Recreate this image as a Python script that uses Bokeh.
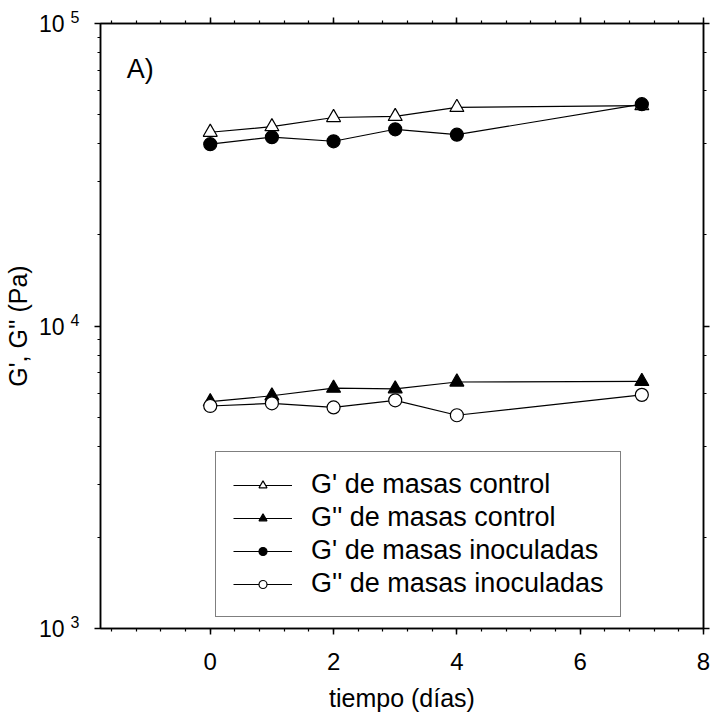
from bokeh.plotting import figure
from bokeh.models import (Range1d, LinearAxis, LogAxis, Legend, LegendItem,
                          SingleIntervalTicker, Label)
from bokeh.embed import file_html
from bokeh.resources import INLINE

# ---- data ----
dias = [0, 1, 2, 3, 4, 7]
g1_control = [43700, 45600, 48900, 49300, 52800, 53500]   # G' masas control
g2_control = [5620, 5880, 6230, 6200, 6530, 6560]         # G'' masas control
g1_inoc = [39900, 42100, 40800, 44700, 42900, 54100]      # G' masas inoculadas
g2_inoc = [5440, 5550, 5380, 5680, 5070, 5920]            # G'' masas inoculadas

series_labels = ["G' de masas control", "G'' de masas control",
                 "G' de masas inoculadas", "G'' de masas inoculadas"]
y_ticks = [1000, 10000, 100000]
y_tick_base = ["10", "10", "10"]
y_tick_exp = ["3", "4", "5"]
x_label = "tiempo (días)"
y_label = "G', G'' (Pa)"
panel_label = "A)"

FONT = "Liberation Sans"
X0, X1 = -1.78, 8

p = figure(width=713, height=717,
           x_range=Range1d(X0, X1), y_range=Range1d(y_ticks[0], y_ticks[-1]),
           y_axis_type="log", output_backend="svg", toolbar_location=None,
           min_border_left=99, min_border_right=10, min_border_top=23,
           min_border_bottom=89)
p.grid.visible = False
p.outline_line_color = "black"
p.outline_line_width = 1.5
p.background_fill_color = "white"
p.border_fill_color = "white"

# extra axes: top and right (ticks only), outer left (the "10" of the labels)
p.add_layout(LinearAxis(), "above")
p.add_layout(LogAxis(), "right")
p.add_layout(LogAxis(), "left")

for ax in p.xaxis:
    ax.ticker = SingleIntervalTicker(interval=2, num_minor_ticks=5)
for ax in p.axis:
    ax.axis_line_color = "black"
    ax.axis_line_width = 1.5
    ax.major_tick_line_color = "black"
    ax.major_tick_line_width = 1.5
    ax.minor_tick_line_color = "black"
    ax.minor_tick_line_width = 1.2
    ax.major_tick_out = 6
    ax.major_tick_in = 0
    ax.minor_tick_out = 3
    ax.minor_tick_in = 0
    ax.major_label_text_font = FONT
    ax.major_label_text_color = "black"
    ax.axis_label_text_font = FONT
    ax.axis_label_text_font_style = "normal"
    ax.axis_label_text_color = "black"

bottom = p.below[0]
bottom.major_label_text_font_size = "24px"
bottom.major_label_standoff = 18
bottom.axis_label = x_label
bottom.axis_label_text_font_size = "25px"
bottom.axis_label_standoff = 11

# inner left axis: ticks + raised exponents
inner = p.left[0]
inner.major_label_overrides = {v: e + "\n " for v, e in zip(y_ticks, y_tick_exp)}
inner.major_label_text_font_size = "16px"
inner.major_label_text_line_height = 0.65
inner.major_label_standoff = 15

# outer left axis: the "10" base and the axis title
outer = p.left[1]
outer.axis_line_color = None
outer.major_tick_line_color = None
outer.minor_tick_line_color = None
outer.major_tick_out = 0
outer.minor_tick_out = 0
outer.major_label_overrides = dict(zip(y_ticks, y_tick_base))
outer.major_label_text_font_size = "23px"
outer.major_label_standoff = 3
outer.axis_label = y_label
outer.axis_label_text_font_size = "25px"
outer.axis_label_standoff = 4

for ax in (p.above[0], p.right[0]):
    ax.major_label_text_font_size = "0px"
    ax.major_label_standoff = 0
    ax.major_label_text_alpha = 0

# ---- series ----
styles = [
    (g1_control, "triangle", "white"),
    (g2_control, "triangle", "black"),
    (g1_inoc, "circle", "black"),
    (g2_inoc, "circle", "white"),
]
items = []
for (vals, marker, fill), lab in zip(styles, series_labels):
    lr = p.line(dias, vals, line_color="black", line_width=1.2)
    sr = p.scatter(dias, vals, marker=marker, size=14 if marker == "triangle" else 13,
                   fill_color=fill, line_color="black", line_width=1.2)
    items.append(LegendItem(label=lab, renderers=[lr, sr]))

legend = Legend(items=items, location=(115, 11),
                border_line_color="black", border_line_width=1.5,
                background_fill_color="white", background_fill_alpha=1.0,
                padding=17, spacing=2, margin=0,
                glyph_width=59, glyph_height=20, label_standoff=19,
                label_width=291, label_height=30,
                label_text_font=FONT, label_text_font_size="27px",
                label_text_color="black")
p.add_layout(legend, "center")

p.add_layout(Label(x=-1.355, y=70500, text=panel_label, text_font=FONT,
                   text_font_size="27px", text_color="black",
                   text_baseline="alphabetic"))

open("out.html", "w").write(file_html(p, INLINE))
